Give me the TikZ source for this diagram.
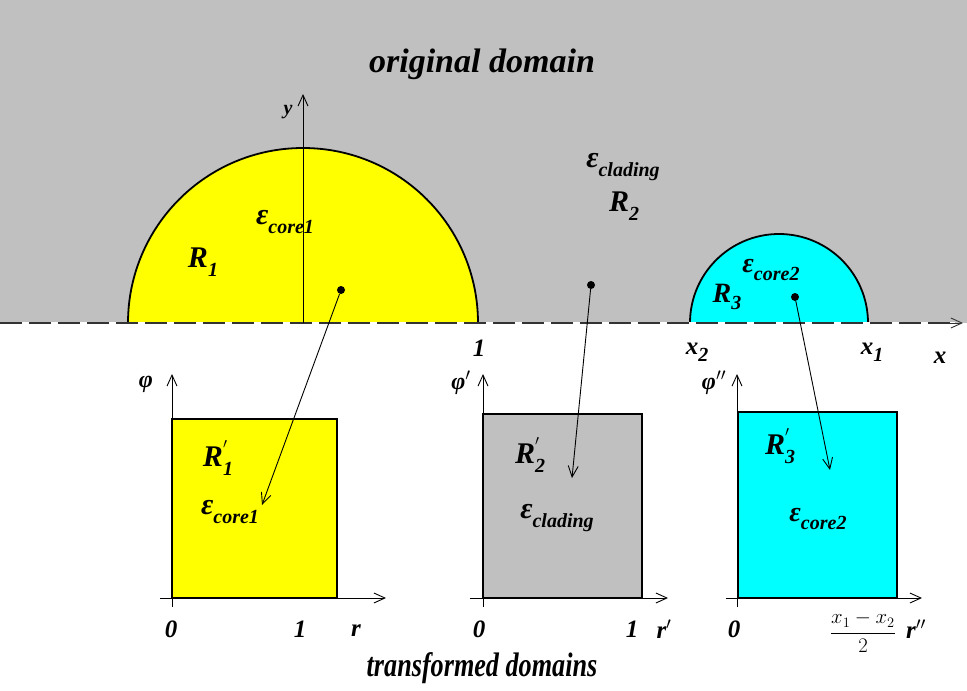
\documentclass[tikz,border=0pt]{standalone}
\usepackage{fontspec}
\setmainfont{Liberation Serif}
\usetikzlibrary{arrows.meta}
\definecolor{bggray}{HTML}{C0C0C0}
\definecolor{cyanf}{HTML}{00FFFF}
\definecolor{yelf}{HTML}{FFFF00}
\newcommand\sbx[3]{{\fontsize{#3}{#3}\selectfont\bfseries\itshape #1\raisebox{-0.28em}{\fontsize{20}{20}\selectfont #2}}}
\newcommand\spx[3]{{\fontsize{#3}{#3}\selectfont\bfseries\itshape #1\rlap{\raisebox{0.35em}{\fontsize{22}{22}\selectfont$'$}}\raisebox{-0.28em}{\fontsize{20}{20}\selectfont #2}}}
\begin{document}
\begin{tikzpicture}[x=1pt,y=-1pt,
  lbl/.style={font=\fontsize{25}{25}\selectfont\bfseries\itshape, inner sep=0pt},
  ttl/.style={font=\fontsize{34}{34}\selectfont\bfseries\itshape, inner sep=0pt},
  arr/.style={-{Straight Barb[length=11pt,width=10pt]}, line width=0.9pt},
  axis/.style={-{Straight Barb[length=11pt,width=10pt]}, line width=0.9pt},
  box/.style={draw=black, line width=2.8pt},
  dot/.style={circle, fill=black, inner sep=0pt, minimum size=8pt}]
\useasboundingbox (0,0) rectangle (967,691);
\fill[white] (0,0) rectangle (967,691);
\fill[bggray] (0,0) rectangle (967,323);
% semicircles
\draw[fill=yelf, line width=1.8pt] (128,323) arc[start angle=180,end angle=360,radius=175];
\draw[fill=cyanf, line width=1.8pt] (690,323) arc[start angle=180,end angle=360,radius=89];
% x axis
\draw[white, line width=2.5pt] (0,323) -- (955,323);
\draw[black!80, line width=1.8pt, dash pattern=on 22pt off 7pt] (0,323) -- (955,323);
\coordinate (xs) at (930,323);
\coordinate (xe) at (963,323);
\draw[axis, black!80] (xs) -- (xe);
% y axis
\coordinate (yb) at (303,323);
\coordinate (yt) at (303,94);
\draw[axis] (yb) -- (yt);
\node[lbl, font=\fontsize{20}{20}\selectfont\bfseries\itshape] at (288,112) {y};
% labels top
\node[ttl] at (482,64) {original domain};
\node[lbl] at (203,262) {\sbx{R}{1}{30}};
\node[lbl] at (285,222) {\sbx{ε}{core1}{30}};
\node[lbl] at (623,167) {\sbx{ε}{clading}{30}};
\node[lbl] at (624,206) {\sbx{R}{2}{30}};
\node[lbl] at (727,297) {\sbx{R}{3}{28}};
\node[lbl] at (771,270) {\sbx{ε}{core2}{28}};
\node[lbl] at (479,348) {1};
\node[lbl] at (697,352) {\sbx{x}{2}{25}};
\node[lbl] at (872,352) {\sbx{x}{1}{25}};
\node[lbl] at (940,358) {x};
% dots
\node[dot] (d1) at (341,290) {};
\node[dot] (d2) at (591,285) {};
\node[dot] (d3) at (795,297) {};
% boxes
\fill[yelf] (172,419) rectangle (337,598);
\draw[box] (172,598) -- (172,419) -- (337,419) -- (337,598);
\fill[bggray] (483,414) rectangle (642,598);
\draw[box] (483,598) -- (483,414) -- (642,414) -- (642,598);
\fill[cyanf] (738,412) rectangle (897,598);
\draw[box] (738,598) -- (738,412) -- (897,412) -- (897,598);
% box axes
\coordinate (a1b) at (172,607); \coordinate (a1t) at (172,374);
\coordinate (a1l) at (160,598); \coordinate (a1r) at (386,598);
\draw[axis] (a1b) -- (a1t);
\draw[axis] (a1l) -- (a1r);
\draw[line width=2.8pt] (172,598) -- (337,598);
\coordinate (a2b) at (483,607); \coordinate (a2t) at (483,374);
\coordinate (a2l) at (470,598); \coordinate (a2r) at (668,598);
\draw[axis] (a2b) -- (a2t);
\draw[axis] (a2l) -- (a2r);
\draw[line width=2.8pt] (483,598) -- (642,598);
\coordinate (a3b) at (737,607); \coordinate (a3t) at (737,374);
\coordinate (a3l) at (726,598); \coordinate (a3r) at (922,598);
\draw[axis] (a3b) -- (a3t);
\draw[axis] (a3l) -- (a3r);
\draw[line width=2.8pt] (738,598) -- (897,598);
% box axis labels
\node[lbl, font=\fontsize{24}{24}\selectfont\bfseries\itshape] at (146,384) {φ};
\node[lbl, font=\fontsize{24}{24}\selectfont\bfseries\itshape] at (461,383) {φ$'$};
\node[lbl, font=\fontsize{24}{24}\selectfont\bfseries\itshape] at (714,383) {φ$''$};
\node[lbl] at (171,629) {0};
\node[lbl] at (300,629) {1};
\node[lbl] at (356,631) {r};
\node[lbl] at (479,629) {0};
\node[lbl] at (632,629) {1};
\node[lbl] at (664,629) {r$'$};
\node[lbl] at (734,629) {0};
\node[inner sep=0pt, font=\fontsize{20}{20}\selectfont] at (863,632) {$\displaystyle\frac{x_1-x_2}{2}$};
\node[lbl] at (916,629) {r$''$};
% box labels
\node[lbl] at (218,458) {\spx{R}{1}{30}};
\node[lbl] at (230,512) {\sbx{ε}{core1}{30}};
\node[lbl] at (530,455) {\spx{R}{2}{30}};
\node[lbl] at (557,518) {\sbx{ε}{clading}{30}};
\node[lbl] at (780,446) {\spx{R}{3}{30}};
\node[lbl] at (818,519) {\sbx{ε}{core2}{28}};
% mapping arrows
\coordinate (e1) at (262,505);
\coordinate (e2) at (572,478);
\coordinate (e3) at (830,470);
\draw[arr] (d1) -- (e1);
\draw[arr] (d2) -- (e2);
\draw[arr] (d3) -- (e3);
\node[ttl] at (482,668) {\scalebox{0.77}[1]{transformed domains}};
\end{tikzpicture}
\end{document}
